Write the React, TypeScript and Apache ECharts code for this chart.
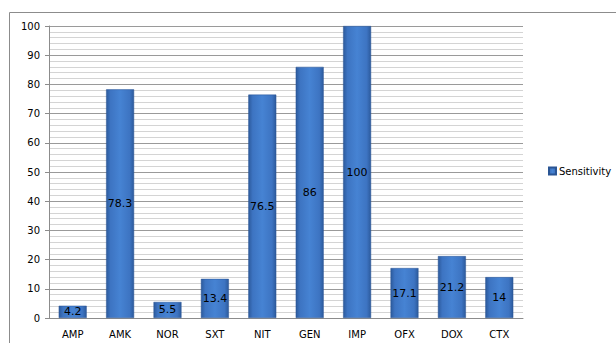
import React, { useEffect, useRef } from "react";
import * as echarts from "echarts";

const categories = ["AMP", "AMK", "NOR", "SXT", "NIT", "GEN", "IMP", "OFX", "DOX", "CTX"];
const sensitivity = [4.2, 78.3, 5.5, 13.4, 76.5, 86, 100, 17.1, 21.2, 14];
const seriesName = "Sensitivity";

export default function App() {
  const ref = useRef<HTMLDivElement>(null);
  useEffect(() => {
    document.body.style.margin = "0";
    const chart = echarts.init(ref.current!, null, { renderer: "svg" });
    const barColor = new echarts.graphic.LinearGradient(0, 0, 1, 0, [
      { offset: 0, color: "#2c5a9c" },
      { offset: 0.15, color: "#3d74c2" },
      { offset: 0.5, color: "#4683d3" },
      { offset: 0.85, color: "#3d74c2" },
      { offset: 1, color: "#2c5a9c" },
    ]);
    chart.setOption({
      animation: false,
      backgroundColor: "#ffffff",
      textStyle: { fontFamily: "DejaVu Sans" },
      graphic: [
        {
          type: "rect",
          shape: { x: 9.5, y: 12.5, width: 700, height: 400 },
          style: { fill: "none", stroke: "#8c8c8c", lineWidth: 1 },
          silent: true,
        },
      ],
      grid: { left: 49, top: 26, right: 93, bottom: 25, containLabel: false },
      legend: {
        data: [seriesName],
        left: 543,
        top: 161,
        orient: "vertical",
        itemWidth: 7,
        itemHeight: 7,
        itemGap: 4,
        icon: "rect",
        textStyle: { fontSize: 10, color: "#000", fontFamily: "DejaVu Sans", padding: [0, 0, 0, -2] },
      },
      xAxis: {
        type: "category",
        data: categories,
        axisLine: { lineStyle: { color: "#8c8c8c" } },
        axisTick: { show: false },
        axisLabel: { color: "#000", fontSize: 10, margin: 11 },
      },
      yAxis: {
        type: "value",
        min: 0,
        max: 100,
        interval: 10,
        axisLine: { show: true, lineStyle: { color: "#8c8c8c" } },
        axisTick: { show: true, length: 4, lineStyle: { color: "#8c8c8c" } },
        axisLabel: { color: "#000", fontSize: 10, margin: 9 },
        splitLine: { show: true, lineStyle: { color: "#9a9a9a" } },
        minorTick: { show: false, splitNumber: 5 },
        minorSplitLine: { show: true, lineStyle: { color: "#d4d4d4" } },
      },
      series: [
        {
          name: seriesName,
          type: "bar",
          data: sensitivity,
          barWidth: "59%",
          itemStyle: { color: barColor, borderColor: "#2a5594", borderWidth: 0.5 },
          label: {
            show: true,
            position: "inside",
            color: "#000",
            fontSize: 11,
            fontFamily: "DejaVu Sans",
          },
        },
      ],
    });
    return () => chart.dispose();
  }, []);
  return <div ref={ref} style={{ width: 616, height: 343, position: "absolute", left: 0, top: 0 }} />;
}
